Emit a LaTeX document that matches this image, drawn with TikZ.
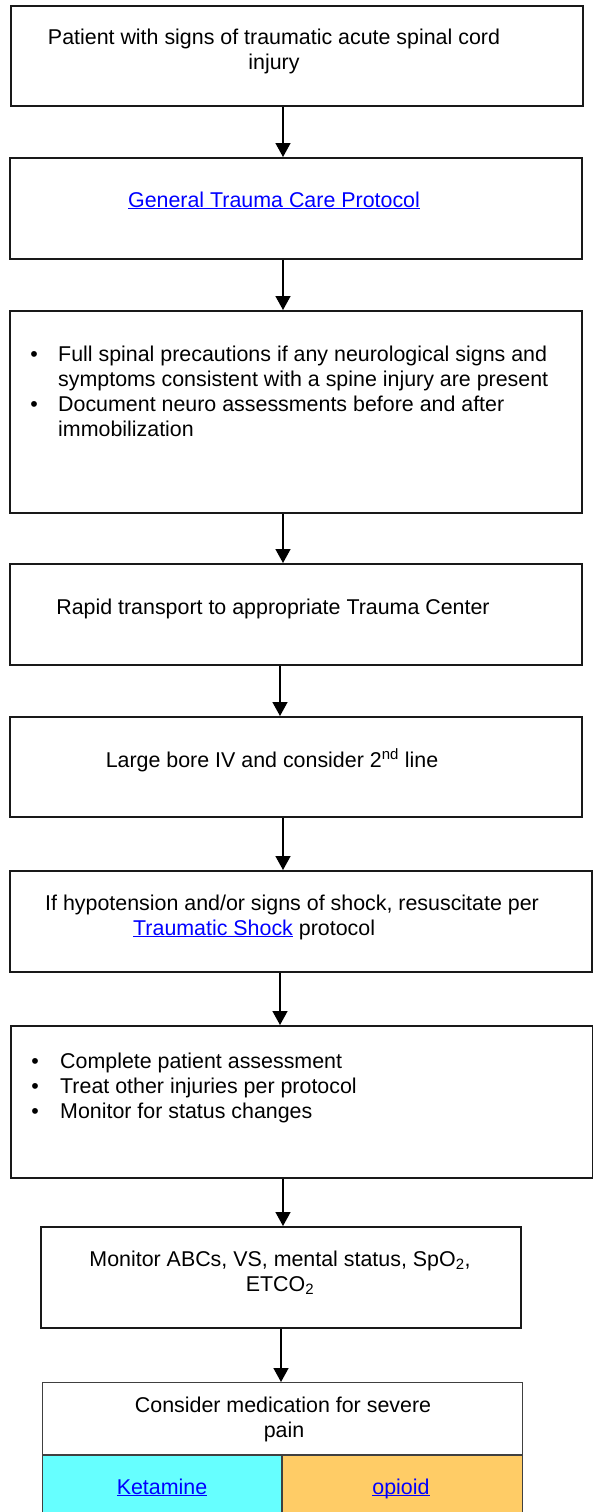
\documentclass[tikz,border=0pt]{standalone}
\usepackage{fontspec}
\setmainfont{Liberation Sans}
\usetikzlibrary{arrows.meta}
\definecolor{linkblue}{RGB}{0,0,255}
\definecolor{ketcyan}{RGB}{102,255,255}
\definecolor{opiorange}{RGB}{255,204,102}
\newcommand\flowfont{\fontsize{21.4pt}{24.8pt}\selectfont}
% underlined hyperlink-style text with a fixed underline depth
\newcommand\linktext[1]{{\color{linkblue}\setbox0\hbox{#1}\rlap{\rule[-2.4pt]{\wd0}{1.4pt}}\box0}}

\begin{document}
\begin{tikzpicture}[x=1pt,y=-1pt,
  stepbox/.style={draw=black!90, line width=1.8pt, anchor=north west, inner sep=0pt},
  medbox/.style={draw=black!75, line width=1.3pt},
  flowarrow/.style={line width=1.5pt, -{Triangle[length=14pt,width=15pt]}},
  txt/.style={inner sep=0pt, anchor=base, font=\flowfont},
  ltxt/.style={inner sep=0pt, anchor=base west, font=\flowfont},
  bul/.style={inner sep=0pt, anchor=base, font=\flowfont}]
\useasboundingbox (0,0) rectangle (592,1512);

% step boxes
\node[stepbox, minimum width=572pt, minimum height=100pt] (b1) at (10,5) {};
\node[stepbox, minimum width=572pt, minimum height=101pt] (b2) at (9,157) {};
\node[stepbox, minimum width=572pt, minimum height=202pt] (b3) at (9,310) {};
\node[stepbox, minimum width=572pt, minimum height=101pt] (b4) at (9,563) {};
\node[stepbox, minimum width=572pt, minimum height=100pt] (b5) at (9,716) {};
\node[stepbox, minimum width=582pt, minimum height=101pt] (b6) at (9,870) {};
\node[stepbox, minimum width=582pt, minimum height=152pt] (b7) at (10,1025) {};
\node[stepbox, minimum width=480pt, minimum height=101pt] (b8) at (40,1226) {};

% medication box with its two options
\fill[ketcyan] (42,1455) rectangle (282,1516);
\fill[opiorange] (282,1455) rectangle (522,1516);
\node[medbox, anchor=north west, inner sep=0pt, minimum width=480pt, minimum height=134pt] (b9) at (42,1382) {};
\draw[medbox] (b9.west |- 0,1455) -- (b9.east |- 0,1455);
\draw[medbox] (282,1455) -- (b9.south -| 282,0);

% connectors
\draw[flowarrow] (b1.south -| 283,0) -- (b2.north -| 283,0);
\draw[flowarrow] (b2.south -| 283,0) -- (b3.north -| 283,0);
\draw[flowarrow] (b3.south -| 283,0) -- (b4.north -| 283,0);
\draw[flowarrow] (b4.south -| 280,0) -- (b5.north -| 280,0);
\draw[flowarrow] (b5.south -| 283,0) -- (b6.north -| 283,0);
\draw[flowarrow] (b6.south -| 280,0) -- (b7.north -| 280,0);
\draw[flowarrow] (b7.south -| 283,0) -- (b8.north -| 283,0);
\draw[flowarrow] (b8.south -| 281,0) -- (b9.north -| 281,0);

% texts
\node[txt] (t1a) at (274,45) {Patient with signs of traumatic acute spinal cord};
\node[txt] (t1b) at (274,70) {injury};

\node[txt] (t2) at (274,207) {\linktext{General Trauma Care Protocol}};

\node[bul] (t3p1) at (34,361) {•};
\node[ltxt] (t3a) at (58,361) {Full spinal precautions if any neurological signs and};
\node[ltxt] (t3b) at (58,386) {symptoms consistent with a spine injury are present};
\node[bul] (t3p2) at (34,411) {•};
\node[ltxt] (t3c) at (58,411) {Document neuro assessments before and after};
\node[ltxt] (t3d) at (58,436) {immobilization};

\node[txt] (t4) at (273,614) {Rapid transport to appropriate Trauma Center};

\node[txt] (t5) at (272,767) {Large bore IV and consider 2\textsuperscript{nd} line};

\node[ltxt] (t6a) at (45,910) {If hypotension and/or signs of shock, resuscitate per};
\node[ltxt] (t6b) at (133,935) {\linktext{Traumatic Shock} protocol};

\node[bul] (t7p1) at (35,1068) {•};
\node[ltxt] (t7a) at (60,1068) {Complete patient assessment};
\node[bul] (t7p2) at (35,1093) {•};
\node[ltxt] (t7b) at (60,1093) {Treat other injuries per protocol};
\node[bul] (t7p3) at (35,1118) {•};
\node[ltxt] (t7c) at (60,1118) {Monitor for status changes};

\node[txt] (t8a) at (280,1266) {Monitor ABCs, VS, mental status, SpO\textsubscript{2},};
\node[txt] (t8b) at (280,1291) {ETCO\textsubscript{2}};

\node[txt] (t9a) at (283,1412) {Consider medication for severe};
\node[txt] (t9b) at (284,1437) {pain};
\node[txt] (ket) at (162,1494) {\linktext{Ketamine}};
\node[txt] (opi) at (401,1494) {\linktext{opioid}};
\end{tikzpicture}
\end{document}
